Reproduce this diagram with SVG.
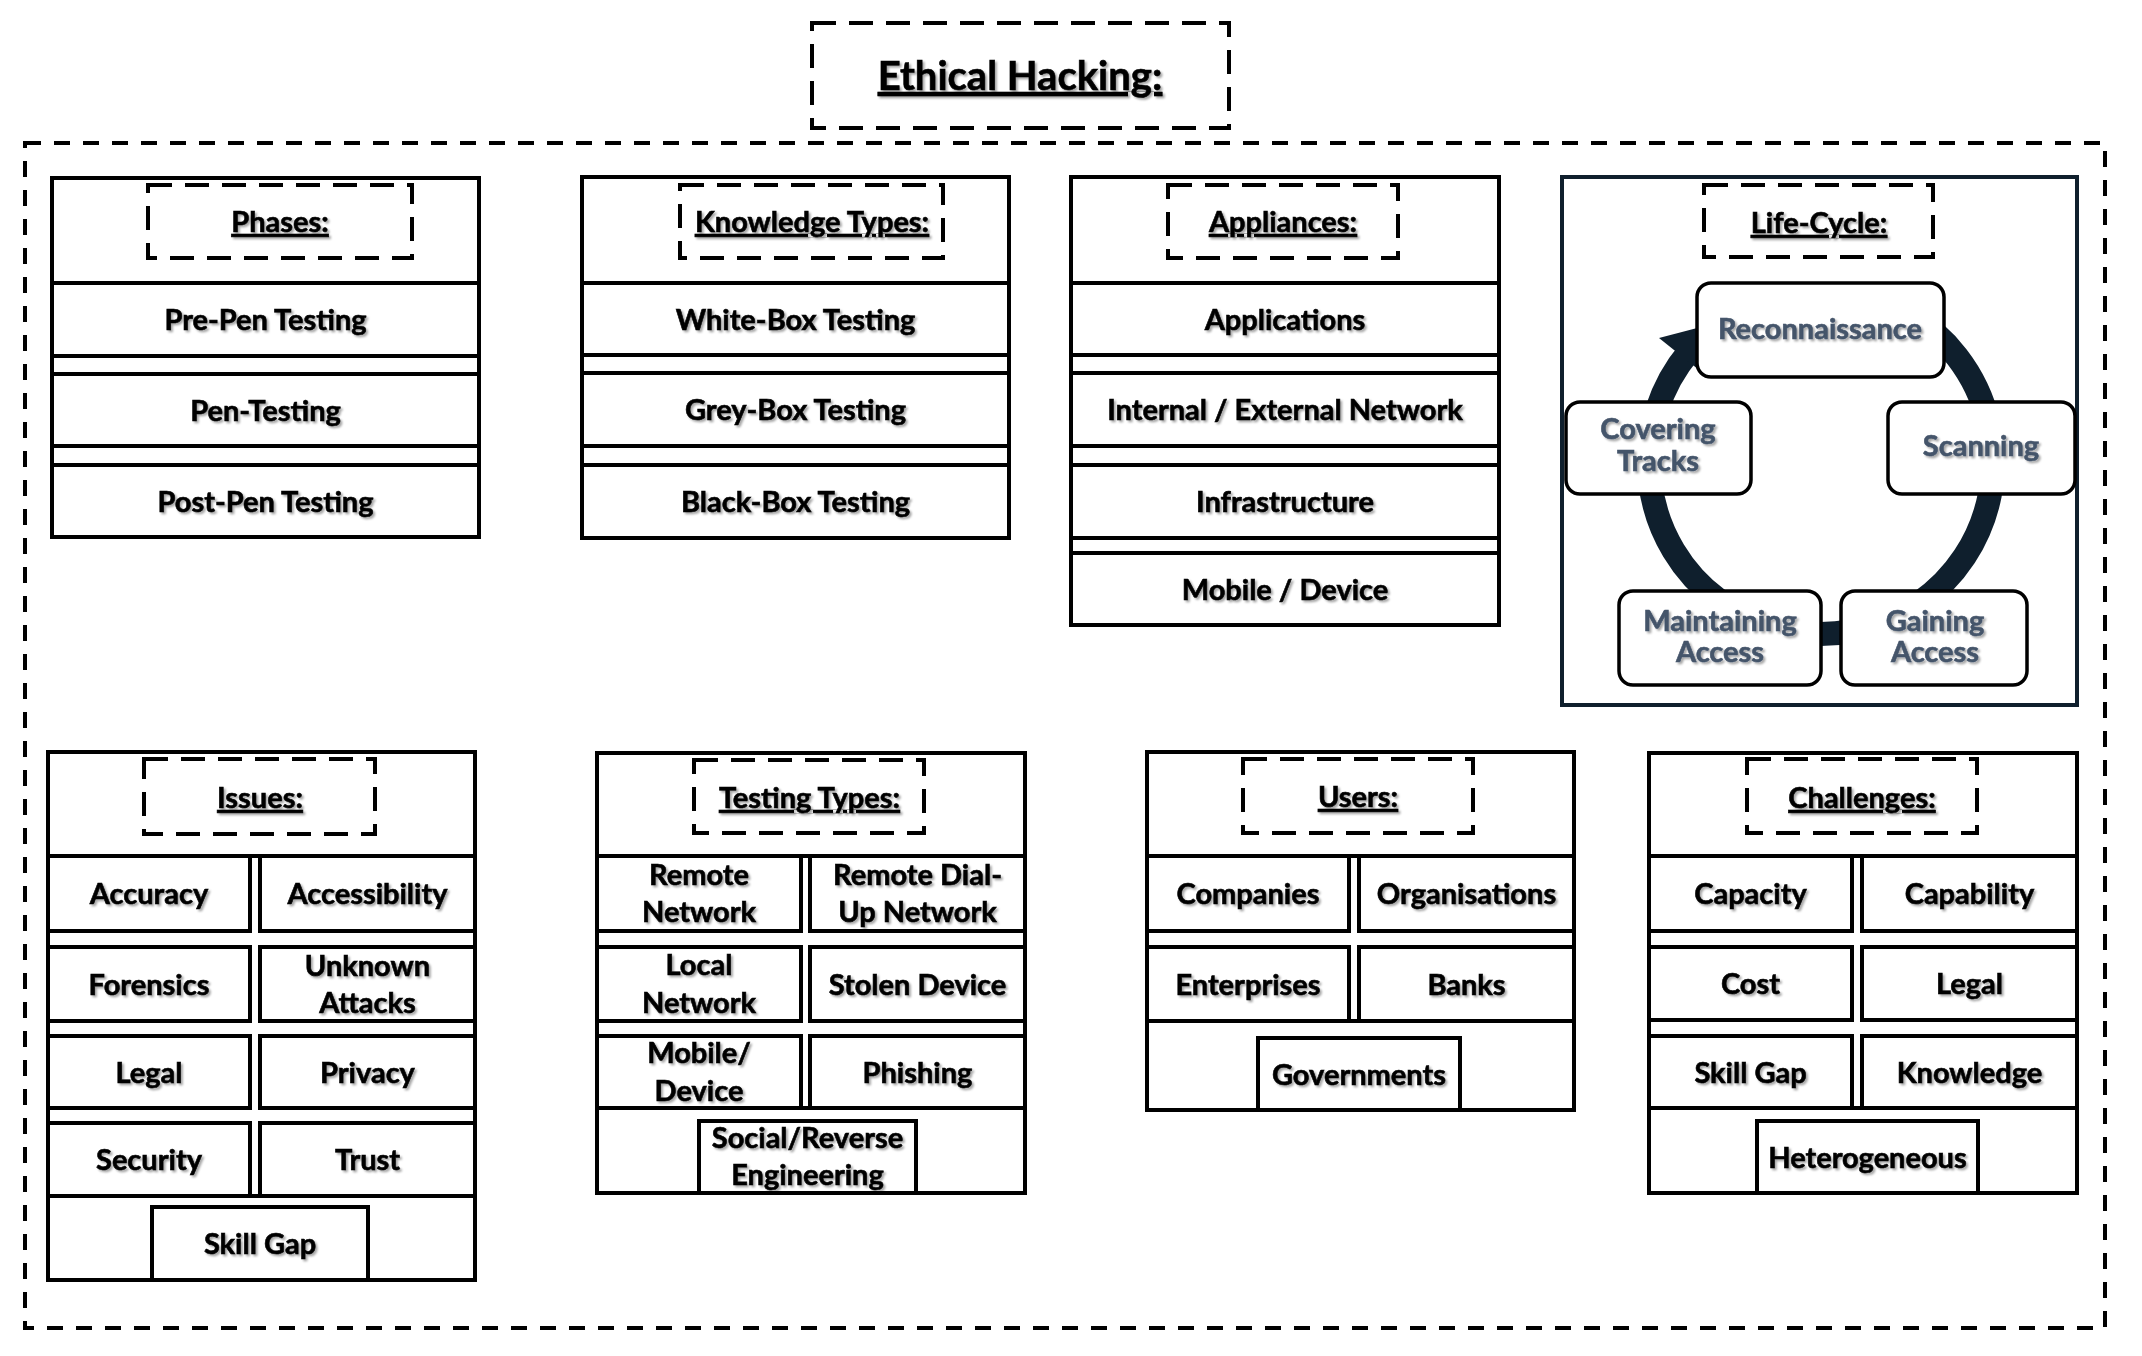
<svg xmlns="http://www.w3.org/2000/svg" width="2142" height="1356" viewBox="0 0 2142 1356">
<defs>
<filter id="sh" x="-10%" y="-30%" width="120%" height="160%">
<feDropShadow dx="2" dy="2" stdDeviation="1.2" flood-color="#000" flood-opacity="0.35"/>
</filter>
<style>
.box{fill:#fff;stroke:#000;stroke-width:4}
.ln{stroke:#000;stroke-width:4}
.dash{fill:none;stroke:#000;stroke-width:4;stroke-dasharray:24 13}
.odash{fill:none;stroke:#000;stroke-width:4;stroke-dasharray:16 13}
.t{font-family:Lato,"Liberation Sans",sans-serif;font-weight:700;font-size:29px;text-anchor:middle;fill:#000;stroke:#000;stroke-width:0.6;filter:url(#sh)}
.h{text-decoration:underline}
.lc{fill:#44546a;stroke:#44546a}
.step{fill:#fff;stroke:#000;stroke-width:3.5}
.ring{fill:none;stroke:#0f1f2d;stroke-width:24}
</style>
</defs>
<rect width="2142" height="1356" fill="#fff"/>

<g id="title">
<rect class="dash" x="812" y="23" width="417" height="105"/>
<text class="t h" x="1020" y="90" style="font-size:40px">Ethical Hacking:</text>
</g>

<g id="frame">
<rect class="odash" x="25" y="143" width="2080" height="1185"/>
</g>

<g id="phases">
<rect class="box" x="52" y="178" width="427" height="359"/>
<rect class="box" x="52" y="283" width="427" height="73"/>
<rect class="box" x="52" y="374" width="427" height="72"/>
<rect class="box" x="52" y="465" width="427" height="72"/>
<rect class="dash" x="148" y="185" width="264" height="73"/>
<text class="t h" x="280" y="232">Phases:</text>
<text class="t" x="265.5" y="330">Pre-Pen Testing</text>
<text class="t" x="265.5" y="420.5">Pen-Testing</text>
<text class="t" x="265.5" y="511.5">Post-Pen Testing</text>
</g>

<g id="knowledge-types">
<rect class="box" x="582" y="177" width="427" height="361"/>
<rect class="box" x="582" y="283" width="427" height="72"/>
<rect class="box" x="582" y="373" width="427" height="73"/>
<rect class="box" x="582" y="465" width="427" height="73"/>
<rect class="dash" x="680" y="185" width="263" height="73"/>
<text class="t h" x="812" y="232">Knowledge Types:</text>
<text class="t" x="795.5" y="329.5">White-Box Testing</text>
<text class="t" x="795.5" y="420">Grey-Box Testing</text>
<text class="t" x="795.5" y="512">Black-Box Testing</text>
</g>

<g id="appliances">
<rect class="box" x="1071" y="177" width="428" height="448"/>
<rect class="box" x="1071" y="283" width="428" height="72"/>
<rect class="box" x="1071" y="373" width="428" height="73"/>
<rect class="box" x="1071" y="465" width="428" height="73"/>
<rect class="box" x="1071" y="553" width="428" height="72"/>
<rect class="dash" x="1168" y="185" width="230" height="73"/>
<text class="t h" x="1283" y="232">Appliances:</text>
<text class="t" x="1285" y="329.5">Applications</text>
<text class="t" x="1285" y="420">Internal / External Network</text>
<text class="t" x="1285" y="512">Infrastructure</text>
<text class="t" x="1285" y="599.5">Mobile / Device</text>
</g>

<g id="life-cycle">
<rect x="1562" y="177" width="515" height="528" fill="#fff" stroke="#0f1f2d" stroke-width="4"/>
<rect class="dash" x="1704" y="185" width="229" height="72"/>
<text class="t h" x="1819" y="233">Life-Cycle:</text>
</g>

<g id="connectors">
<path class="ring" d="M 1907 313 A 172 172 0 1 1 1689.2 351.4"/>
<polygon points="1659,338 1702.8,372.9 1716.3,323" fill="#0f1f2d"/>
</g>

<g id="reconnaissance">
<rect class="step" x="1697" y="283" width="247" height="94" rx="14"/>
<text class="t lc" x="1820" y="339">Reconnaissance</text>
</g>
<g id="scanning">
<rect class="step" x="1888" y="402" width="187" height="92" rx="14"/>
<text class="t lc" x="1981" y="456">Scanning</text>
</g>
<g id="gaining-access">
<rect class="step" x="1841" y="591" width="186" height="94" rx="14"/>
<text class="t lc" x="1935" y="631">Gaining</text>
<text class="t lc" x="1935" y="662">Access</text>
</g>
<g id="maintaining-access">
<rect class="step" x="1619" y="591" width="202" height="94" rx="14"/>
<text class="t lc" x="1720" y="631">Maintaining</text>
<text class="t lc" x="1720" y="662">Access</text>
</g>
<g id="covering-tracks">
<rect class="step" x="1566" y="402" width="185" height="92" rx="14"/>
<text class="t lc" x="1658" y="439">Covering</text>
<text class="t lc" x="1658" y="471">Tracks</text>
</g>

<g id="issues">
<rect class="box" x="48" y="752" width="427" height="528"/>
<line class="ln" x1="48" y1="856" x2="475" y2="856"/>
<rect class="box" x="48" y="856" width="202" height="75"/>
<rect class="box" x="260" y="856" width="215" height="75"/>
<rect class="box" x="48" y="947" width="202" height="74"/>
<rect class="box" x="260" y="947" width="215" height="74"/>
<rect class="box" x="48" y="1036" width="202" height="72"/>
<rect class="box" x="260" y="1036" width="215" height="72"/>
<rect class="box" x="48" y="1123" width="202" height="73"/>
<rect class="box" x="260" y="1123" width="215" height="73"/>
<line class="ln" x1="48" y1="1196" x2="475" y2="1196"/>
<rect class="box" x="152" y="1207" width="216" height="73"/>
<rect class="dash" x="144" y="759" width="231" height="75"/>
<text class="t h" x="260" y="808">Issues:</text>
<text class="t" x="149" y="904">Accuracy</text>
<text class="t" x="367.5" y="904">Accessibility</text>
<text class="t" x="149" y="994.5">Forensics</text>
<text class="t" x="367.5" y="976">Unknown</text>
<text class="t" x="367.5" y="1013">Attacks</text>
<text class="t" x="149" y="1082.5">Legal</text>
<text class="t" x="367.5" y="1082.5">Privacy</text>
<text class="t" x="149" y="1170">Security</text>
<text class="t" x="367.5" y="1170">Trust</text>
<text class="t" x="260" y="1254">Skill Gap</text>
</g>

<g id="testing-types">
<rect class="box" x="597" y="753" width="428" height="440"/>
<line class="ln" x1="597" y1="856" x2="1025" y2="856"/>
<rect class="box" x="597" y="856" width="204" height="75"/>
<rect class="box" x="810" y="856" width="215" height="75"/>
<rect class="box" x="597" y="947" width="204" height="74"/>
<rect class="box" x="810" y="947" width="215" height="74"/>
<rect class="box" x="597" y="1036" width="204" height="72"/>
<rect class="box" x="810" y="1036" width="215" height="72"/>
<line class="ln" x1="597" y1="1108" x2="1025" y2="1108"/>
<rect class="box" x="699" y="1121" width="217" height="72"/>
<rect class="dash" x="694" y="760" width="230" height="73"/>
<text class="t h" x="809.5" y="808">Testing Types:</text>
<text class="t" x="699" y="885">Remote</text>
<text class="t" x="699" y="922">Network</text>
<text class="t" x="917.5" y="885">Remote Dial-</text>
<text class="t" x="917.5" y="922">Up Network</text>
<text class="t" x="699" y="975">Local</text>
<text class="t" x="699" y="1013">Network</text>
<text class="t" x="917.5" y="994.5">Stolen Device</text>
<text class="t" x="699" y="1063">Mobile/</text>
<text class="t" x="699" y="1101">Device</text>
<text class="t" x="917.5" y="1082.5">Phishing</text>
<text class="t" x="807.5" y="1148">Social/Reverse</text>
<text class="t" x="807.5" y="1185">Engineering</text>
</g>

<g id="users">
<rect class="box" x="1147" y="752" width="427" height="358"/>
<line class="ln" x1="1147" y1="856" x2="1574" y2="856"/>
<rect class="box" x="1147" y="856" width="202" height="75"/>
<rect class="box" x="1359" y="856" width="215" height="75"/>
<rect class="box" x="1147" y="947" width="202" height="74"/>
<rect class="box" x="1359" y="947" width="215" height="74"/>
<line class="ln" x1="1147" y1="1021" x2="1574" y2="1021"/>
<rect class="box" x="1258" y="1038" width="202" height="72"/>
<rect class="dash" x="1243" y="759" width="230" height="74"/>
<text class="t h" x="1358" y="807">Users:</text>
<text class="t" x="1248" y="904">Companies</text>
<text class="t" x="1466.5" y="904">Organisations</text>
<text class="t" x="1248" y="994.5">Enterprises</text>
<text class="t" x="1466.5" y="994.5">Banks</text>
<text class="t" x="1359" y="1084.5">Governments</text>
</g>

<g id="challenges">
<rect class="box" x="1649" y="753" width="428" height="440"/>
<line class="ln" x1="1649" y1="856" x2="2077" y2="856"/>
<rect class="box" x="1649" y="856" width="203" height="75"/>
<rect class="box" x="1862" y="856" width="215" height="75"/>
<rect class="box" x="1649" y="947" width="203" height="73"/>
<rect class="box" x="1862" y="947" width="215" height="73"/>
<rect class="box" x="1649" y="1036" width="203" height="72"/>
<rect class="box" x="1862" y="1036" width="215" height="72"/>
<line class="ln" x1="1649" y1="1108" x2="2077" y2="1108"/>
<rect class="box" x="1757" y="1121" width="221" height="72"/>
<rect class="dash" x="1747" y="759" width="230" height="74"/>
<text class="t h" x="1862" y="808">Challenges:</text>
<text class="t" x="1750.5" y="904">Capacity</text>
<text class="t" x="1969.5" y="904">Capability</text>
<text class="t" x="1750.5" y="994">Cost</text>
<text class="t" x="1969.5" y="994">Legal</text>
<text class="t" x="1750.5" y="1082.5">Skill Gap</text>
<text class="t" x="1969.5" y="1082.5">Knowledge</text>
<text class="t" x="1867.5" y="1167.5">Heterogeneous</text>
</g>
</svg>
